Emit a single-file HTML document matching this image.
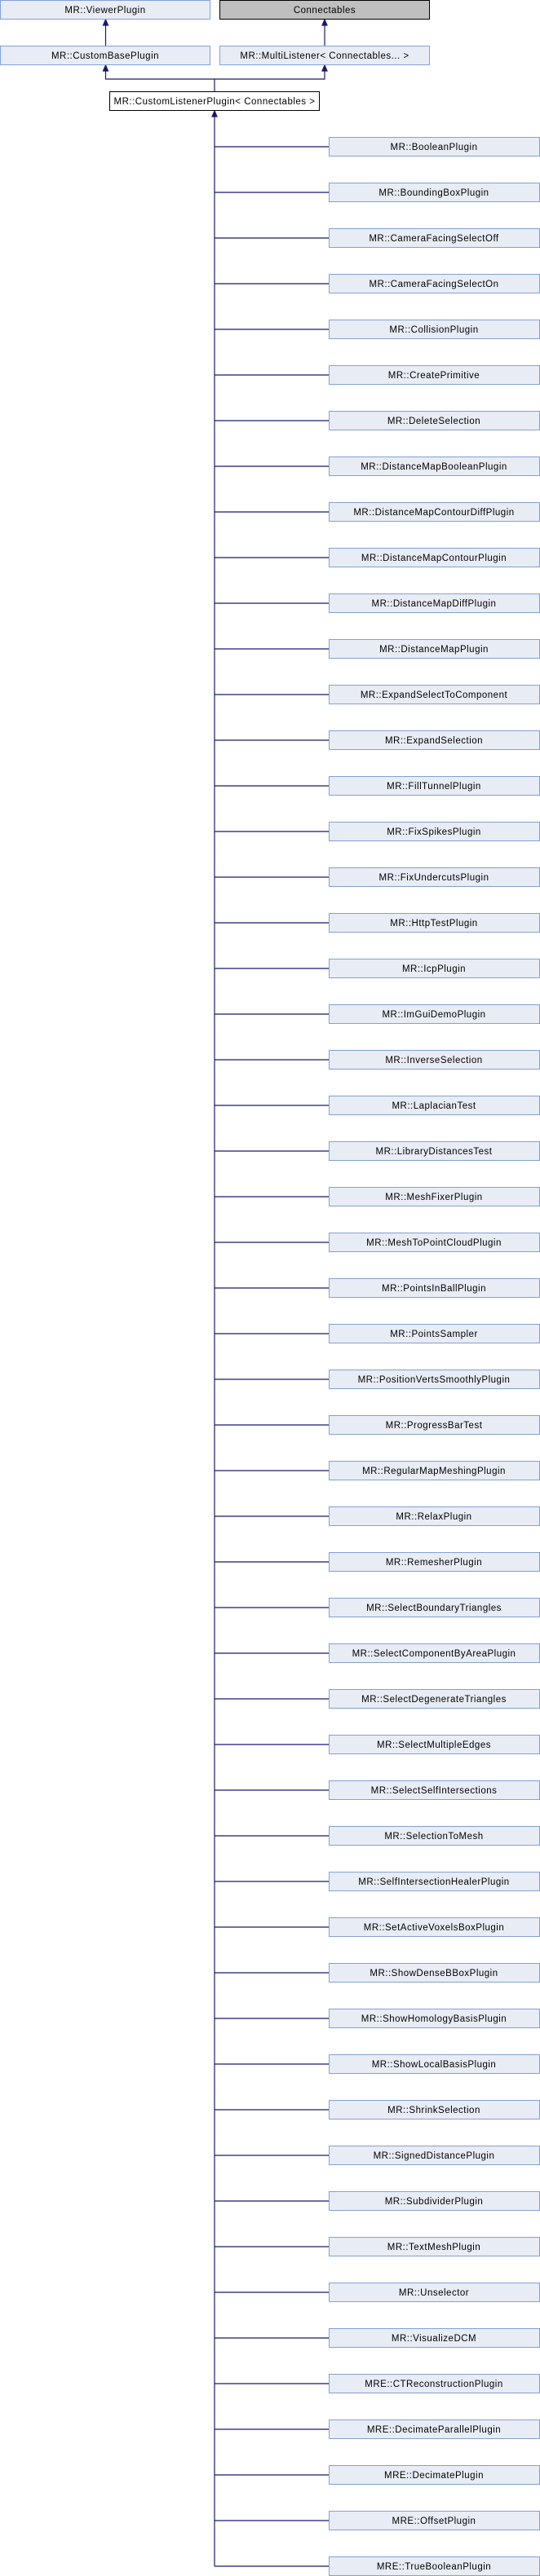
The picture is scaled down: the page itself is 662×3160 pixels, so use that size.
<!DOCTYPE html>
<html><head><meta charset="utf-8"><style>
html,body{margin:0;padding:0;background:#fff;}
svg{display:block;}
text{font-family:"Liberation Sans",sans-serif;font-size:11.5px;letter-spacing:0.5px;fill:#000;}
</style></head><body>
<svg width="662" height="3160" viewBox="0 0 662 3160" xmlns="http://www.w3.org/2000/svg">
<defs>
<marker id="a" markerWidth="6" markerHeight="6" refX="3" refY="3" orient="auto"><path d="M0,0 L6,3 L0,6 z" fill="#191970"/></marker>
</defs>
<g stroke="#191970" stroke-width="1.2" fill="none">
<line x1="129.5" y1="56" x2="129.5" y2="25"/>
<path d="M126.5,31 L129.5,24 L132.5,31 z" fill="#191970"/>
<line x1="398" y1="56" x2="398" y2="25"/>
<path d="M395,31 L398,24 L401,31 z" fill="#191970"/>
<polyline points="129.5,81 129.5,97 398,97 398,81"/>
<path d="M126.5,87 L129.5,80 L132.5,87 z" fill="#191970"/>
<path d="M395,87 L398,80 L401,87 z" fill="#191970"/>
<line x1="263" y1="97" x2="263" y2="112"/>
<line x1="263" y1="137" x2="263" y2="3148"/>
<path d="M260,143 L263,136 L266,143 z" fill="#191970"/>
</g>
<rect x="0.5" y="0.5" width="257" height="23" fill="#e8ecf5" stroke="#84a0d4"/>
<text x="129" y="16" text-anchor="middle">MR::ViewerPlugin</text>
<rect x="269.5" y="0.5" width="257" height="23" fill="#bfbfbf" stroke="#000"/>
<text x="398" y="16" text-anchor="middle">Connectables</text>
<rect x="0.5" y="56.5" width="257" height="23" fill="#e8ecf5" stroke="#84a0d4"/>
<text x="129" y="72" text-anchor="middle">MR::CustomBasePlugin</text>
<rect x="269.5" y="56.5" width="257" height="23" fill="#e8ecf5" stroke="#84a0d4"/>
<text x="398" y="72" text-anchor="middle">MR::MultiListener&lt; Connectables... &gt;</text>
<rect x="134.5" y="112.5" width="257" height="23" fill="#fff" stroke="#000"/>
<text x="263" y="128" text-anchor="middle">MR::CustomListenerPlugin&lt; Connectables &gt;</text>
<g id="kids"></g>
</svg>
<script>
var names=["MR::BooleanPlugin","MR::BoundingBoxPlugin","MR::CameraFacingSelectOff","MR::CameraFacingSelectOn","MR::CollisionPlugin","MR::CreatePrimitive","MR::DeleteSelection","MR::DistanceMapBooleanPlugin","MR::DistanceMapContourDiffPlugin","MR::DistanceMapContourPlugin","MR::DistanceMapDiffPlugin","MR::DistanceMapPlugin","MR::ExpandSelectToComponent","MR::ExpandSelection","MR::FillTunnelPlugin","MR::FixSpikesPlugin","MR::FixUndercutsPlugin","MR::HttpTestPlugin","MR::IcpPlugin","MR::ImGuiDemoPlugin","MR::InverseSelection","MR::LaplacianTest","MR::LibraryDistancesTest","MR::MeshFixerPlugin","MR::MeshToPointCloudPlugin","MR::PointsInBallPlugin","MR::PointsSampler","MR::PositionVertsSmoothlyPlugin","MR::ProgressBarTest","MR::RegularMapMeshingPlugin","MR::RelaxPlugin","MR::RemesherPlugin","MR::SelectBoundaryTriangles","MR::SelectComponentByAreaPlugin","MR::SelectDegenerateTriangles","MR::SelectMultipleEdges","MR::SelectSelfIntersections","MR::SelectionToMesh","MR::SelfIntersectionHealerPlugin","MR::SetActiveVoxelsBoxPlugin","MR::ShowDenseBBoxPlugin","MR::ShowHomologyBasisPlugin","MR::ShowLocalBasisPlugin","MR::ShrinkSelection","MR::SignedDistancePlugin","MR::SubdividerPlugin","MR::TextMeshPlugin","MR::Unselector","MR::VisualizeDCM","MRE::CTReconstructionPlugin","MRE::DecimateParallelPlugin","MRE::DecimatePlugin","MRE::OffsetPlugin","MRE::TrueBooleanPlugin"];
var g=document.getElementById("kids"),ns="http://www.w3.org/2000/svg",h="";
for(var i=0;i<names.length;i++){var y=168+i*56;
h+='<line x1="263" y1="'+(y+12)+'" x2="403" y2="'+(y+12)+'" stroke="#191970" stroke-width="1.2"/>';
h+='<rect x="403.5" y="'+(y+0.5)+'" width="258" height="23" fill="#e8ecf5" stroke="#84a0d4"/>';
h+='<text x="532" y="'+(y+16)+'" text-anchor="middle">'+names[i]+'</text>';}
g.innerHTML=h;
</script>
</body></html>
